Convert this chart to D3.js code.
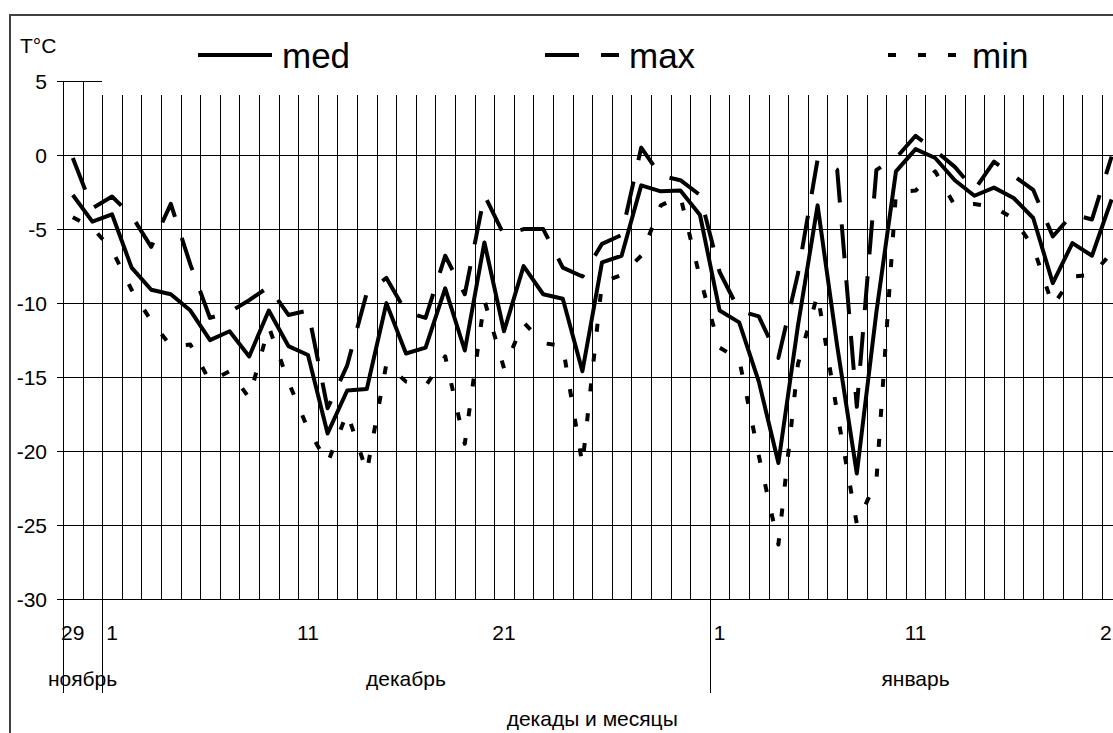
<!DOCTYPE html>
<html lang="ru">
<head>
    <meta charset="utf-8">
    <title>T°C: декады и месяцы</title>
    <script src="https://d3js.org/d3.v7.min.js"></script>
    <style>
        body{
            margin: 0;
            background-color: white;
        }
        svg{
            display: block;
        }
        text{
            font-family: "Liberation Sans", Arial, Helvetica, sans-serif;
            fill: #000;
        }
    </style>
</head>
<body>
<div id="chart"></div>
<script>

// day of month for every category, Nov 29 .. Jan 21
var days = [29, 30,
    1, 2, 3, 4, 5, 6, 7, 8, 9, 10, 11, 12, 13, 14, 15, 16, 17, 18, 19, 20, 21, 22, 23, 24, 25, 26, 27, 28, 29, 30, 31,
    1, 2, 3, 4, 5, 6, 7, 8, 9, 10, 11, 12, 13, 14, 15, 16, 17, 18, 19, 20, 21];

var monthNames = ["ноябрь", "декабрь", "январь"];
var monthLengths = [2, 31, 21];

// days that get a label under the axis
var labelledDays = [29, 1, 11, 21];

var yTicks = [5, 0, -5, -10, -15, -20, -25, -30];

// temperatures
var med = [-2.7, -4.5, -4.0, -7.6, -9.1, -9.4, -10.5, -12.5, -11.9, -13.6, -10.5, -12.9, -13.5, -18.8, -15.9, -15.8,
    -10.0, -13.4, -13.0, -9.0, -13.2, -5.9, -11.9, -7.5, -9.4, -9.7, -14.6, -7.25, -6.8, -2.05, -2.45, -2.4, -4.05,
    -10.5, -11.3, -15.3, -20.8, -11.5, -3.4, -12.9, -21.5, -10.6, -1.1, 0.4, -0.2, -1.7, -2.75, -2.2, -2.9, -4.25,
    -8.65, -5.95, -6.8, -3.0];

var max = [-0.2, -3.6, -2.8, -4.1, -6.2, -3.3, -7.4, -11.0, -10.6, -9.8, -8.9, -10.8, -10.5, -17.1, -14.2, -9.3,
    -8.3, -10.6, -11.0, -6.8, -9.4, -2.7, -5.4, -5.0, -5.0, -7.6, -8.2, -6.0, -5.4, 0.5, -1.4, -1.7, -2.7,
    -7.9, -10.5, -10.9, -13.7, -8.0, -0.3, -1.0, -17.0, -1.0, -0.2, 1.3, 0.3, -0.8, -2.35, -0.45, -1.4, -2.35,
    -5.5, -4.0, -4.35, -0.1];

var min = [-4.2, -4.9, -6.4, -9.1, -11.2, -12.9, -12.8, -15.3, -14.6, -16.4, -11.6, -15.3, -18.5, -20.8, -17.4, -21.4,
    -14.1, -15.3, -15.6, -13.6, -19.5, -9.8, -14.4, -11.3, -12.7, -12.9, -20.9, -8.6, -8.1, -6.8, -3.4, -2.8, -8.3,
    -13.0, -13.8, -20.3, -26.3, -14.1, -9.4, -17.4, -24.9, -22.0, -2.5, -2.4, -1.1, -3.4, -3.3, -3.5, -4.3, -6.2,
    -10.2, -8.2, -8.1, -6.6];

var width = 1113
var height = 733

var svg = d3.select("#chart")
    .append("svg")
    .attr("width", width)
    .attr("height", height)

// outer frame, only its top and left edges are inside the window
svg.append("rect")
    .attr("x", 10)
    .attr("y", 15)
    .attr("width", 1300)
    .attr("height", 900)
    .attr("fill", "none")
    .attr("stroke", "#404040")
    .attr("stroke-width", 2)

// one band per day, the points sit in the middle of each band
var x = d3.scaleBand()
    .domain(d3.range(days.length))
    .range([63, 63 + days.length * 19.6])
    .paddingInner(0)
    .paddingOuter(0)

var y = d3.scaleLinear()
    .domain([-30, 5])
    .range([599.3, 81])

var xEnd = x.range()[1]
var bw = x.bandwidth()
var crisp = v => Math.round(v) + 0.5

// horizontal grid (the +5 line only runs over the first two days)
svg.append("g")
    .selectAll("line")
    .data(yTicks)
    .enter()
    .append("line")
        .attr("x1", 57)
        .attr("x2", d => d === 5 ? x(2) : xEnd)
        .attr("y1", d => crisp(y(d)))
        .attr("y2", d => crisp(y(d)))
        .attr("stroke", "#000")
        .attr("stroke-width", 1)
        .attr("shape-rendering", "crispEdges")

// vertical grid, one line at the start of every day
svg.append("g")
    .selectAll("line")
    .data(d3.range(days.length))
    .enter()
    .append("line")
        .attr("x1", i => crisp(x(i)))
        .attr("x2", i => crisp(x(i)))
        .attr("y1", i => i < 2 ? y(5) : y(4.05))
        .attr("y2", y(-30))
        .attr("stroke", "#000")
        .attr("stroke-width", 1)
        .attr("shape-rendering", "crispEdges")

// month separators below the axis
var monthStarts = monthLengths.map((n, k) => d3.sum(monthLengths.slice(0, k)))
svg.append("g")
    .selectAll("line")
    .data(monthStarts)
    .enter()
    .append("line")
        .attr("x1", i => crisp(x(i)))
        .attr("x2", i => crisp(x(i)))
        .attr("y1", y(-30))
        .attr("y2", 693)
        .attr("stroke", "#000")
        .attr("stroke-width", 1)
        .attr("shape-rendering", "crispEdges")

// y labels
svg.append("g")
    .selectAll("text")
    .data(yTicks)
    .enter()
    .append("text")
        .attr("x", 47)
        .attr("y", d => y(d) + 7.5)
        .attr("text-anchor", "end")
        .style("font-size", "21px")
        .text(d => d)

svg.append("text")
    .attr("x", 20)
    .attr("y", 53)
    .style("font-size", "21px")
    .text("T°C")

// day labels
svg.append("g")
    .selectAll("text")
    .data(d3.range(days.length).filter(i => labelledDays.indexOf(days[i]) >= 0 && !(days[i] === 29 && i > 1)))
    .enter()
    .append("text")
        .attr("x", i => x(i) + bw / 2)
        .attr("y", 640)
        .attr("text-anchor", "middle")
        .style("font-size", "21px")
        .text(i => days[i])

// month labels
svg.append("g")
    .selectAll("text")
    .data(monthNames)
    .enter()
    .append("text")
        .attr("x", (d, k) => x(monthStarts[k]) + monthLengths[k] * bw / 2)
        .attr("y", 686)
        .attr("text-anchor", "middle")
        .style("font-size", "21px")
        .text(d => d)

svg.append("text")
    .attr("x", (x.range()[0] + xEnd) / 2)
    .attr("y", 726)
    .attr("text-anchor", "middle")
    .style("font-size", "21px")
    .text("декады и месяцы")

// the three series
var series = [
    {name: "med", values: med, dash: null, legendX: 198},
    {name: "max", values: max, dash: "34,22", legendX: 545},
    {name: "min", values: min, dash: "8,22", legendX: 888}
]

var line = d3.line()
    .x((d, i) => x(i) + bw / 2)
    .y(d => y(d))

svg.append("g")
    .selectAll("path")
    .data(series)
    .enter()
    .append("path")
        .attr("d", s => line(s.values))
        .attr("fill", "none")
        .attr("stroke", "#000")
        .attr("stroke-width", 4)
        .attr("stroke-linejoin", "round")
        .attr("stroke-dasharray", s => s.dash)

// legend
var legend = svg.append("g")
    .selectAll("g")
    .data(series)
    .enter()
    .append("g")

legend.append("line")
    .attr("x1", s => s.legendX)
    .attr("x2", s => s.legendX + 74)
    .attr("y1", 55)
    .attr("y2", 55)
    .attr("stroke", "#000")
    .attr("stroke-width", 4)
    .attr("stroke-dasharray", s => s.dash)

legend.append("text")
    .attr("x", s => s.legendX + 84)
    .attr("y", 68)
    .style("font-size", "35px")
    .text(s => s.name)

</script>
</body>
</html>
